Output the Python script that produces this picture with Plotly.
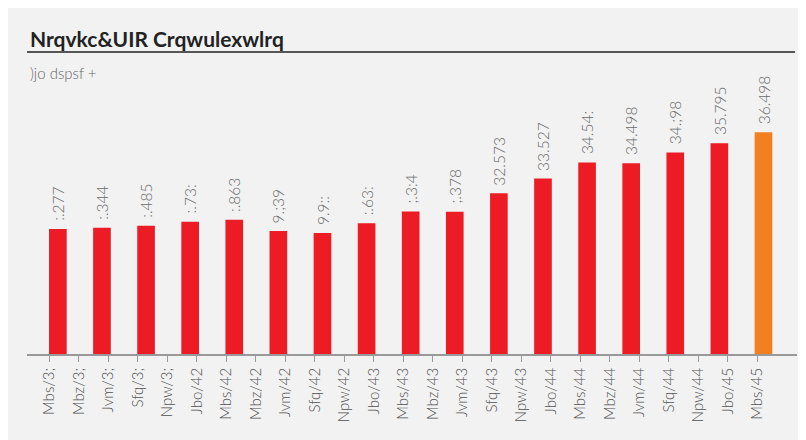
import plotly.graph_objects as go

# bar values and the labels shown on them
values = [8055, 8122, 8263, 8518, 8641, 7917, 7788, 8418, 9182, 9156,
          10351, 11305, 12328, 12276, 12976, 13573, 14276]
value_labels = [":.277", ":.344", ":.485", ":.73:", ":.863", "9.;39", "9.9::",
                ":.63:", ";.3:4", ";.378", "32.573", "33.527", "34.54:",
                "34.498", "34.;98", "35.795", "36.498"]
bar_colors = ["#ed1c24"] * (len(values) - 1) + ["#f47f20"]

# axis tick labels
tick_labels = ["Mbs/3;", "Mbz/3;", "Jvm/3;", "Sfq/3;", "Npw/3;",
               "Jbo/42", "Mbs/42", "Mbz/42", "Jvm/42", "Sfq/42", "Npw/42",
               "Jbo/43", "Mbs/43", "Mbz/43", "Jvm/43", "Sfq/43", "Npw/43",
               "Jbo/44", "Mbs/44", "Mbz/44", "Jvm/44", "Sfq/44", "Npw/44",
               "Jbo/45", "Mbs/45"]

title = "Nrqvkc&UIR Crqwulexwlrq"
subtitle = ")jo dspsf +"

# page body has an 8px margin, so the figure is drawn 8px in
OFF = 8
W, H = 806 - OFF, 440 - OFF
L, R, T, B = 27 - OFF, 9, 95 - OFF, 86
pw, ph = W - L - R, H - T - B


def px_x(x):
    return (x - OFF - L) / pw


def px_y(y):
    return (H - B - (y - OFF)) / ph


font = "Lato, Open Sans, sans-serif"
bar_x = list(range(len(values)))

fig = go.Figure()
fig.add_trace(
    go.Bar(
        x=bar_x,
        y=values,
        width=0.4,
        marker=dict(color=bar_colors, line=dict(width=0)),
        hoverinfo="skip",
        showlegend=False,
    )
)
# invisible trace so the label axis is drawn
fig.add_trace(
    go.Scatter(
        x=list(range(len(tick_labels))),
        y=[None] * len(tick_labels),
        xaxis="x2",
        mode="markers",
        hoverinfo="skip",
        showlegend=False,
    )
)

# value labels above bars
for xv, yv, lab in zip(bar_x, values, value_labels):
    fig.add_annotation(
        x=xv, y=yv, xref="x", yref="y", text=lab, textangle=-90,
        xanchor="center", yanchor="bottom", yshift=6, showarrow=False,
        font=dict(family=font, size=15.5, color="#6a6a6a", weight=300),
    )

fig.update_layout(
    width=W,
    height=H,
    margin=dict(l=L, r=R, t=T, b=B),
    paper_bgcolor="#f2f2f2",
    plot_bgcolor="rgba(0,0,0,0)",
    font=dict(family=font, color="#555555"),
    xaxis=dict(range=[-0.7, 16.76], visible=False, fixedrange=True),
    xaxis2=dict(
        range=[-0.756, 25.34],
        overlaying="x",
        anchor="y",
        side="bottom",
        tickmode="array",
        tickvals=list(range(len(tick_labels))),
        ticktext=tick_labels,
        tickangle=-90,
        tickfont=dict(family=font, size=15, color="#505050", weight=300),
        ticks="outside",
        ticklen=6,
        tickwidth=1.2,
        tickcolor="#999999",
        showline=True,
        linecolor="#999999",
        linewidth=1.5,
        showgrid=False,
        zeroline=False,
    ),
    yaxis=dict(range=[0, 16677], visible=False, fixedrange=True),
    shapes=[
        # rule under title
        dict(type="line", xref="paper", yref="paper",
             x0=px_x(27), x1=px_x(795), y0=px_y(52), y1=px_y(52),
             line=dict(color="#222222", width=1.5)),
    ],
)
fig.add_annotation(
    text=title, xref="paper", yref="paper", x=px_x(28), y=px_y(38),
    xanchor="left", yanchor="middle", showarrow=False,
    font=dict(family="Lato, sans-serif", size=21, color="#222222", weight="bold"),
)
fig.add_annotation(
    text=subtitle, xref="paper", yref="paper", x=px_x(28), y=px_y(73),
    xanchor="left", yanchor="middle", showarrow=False,
    font=dict(family=font, size=15, color="#666666", weight=300),
)

fig.write_html("out.html")
